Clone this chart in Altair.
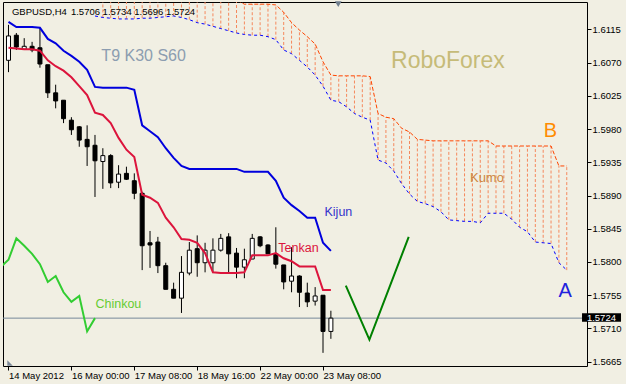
import altair as alt
import pandas as pd

# ---------------- data ----------------
bar_index = list(range(42))
open_ = [1.6073, 1.6107, 1.6088, 1.6092, 1.6090, 1.6067, 1.6029, 1.6019, 1.5992, 1.5983,
         1.5966, 1.5958, 1.5936, 1.5944, 1.5908, 1.5920, 1.5910, 1.5893, 1.5826, 1.5827,
         1.5795, 1.5763, 1.5751, 1.5785, 1.5818, 1.5799, 1.5799, 1.5816, 1.5834, 1.5812,
         1.5793, 1.5804, 1.5834, 1.5823, 1.5811, 1.5796, 1.5774, 1.5781, 1.5758, 1.5747,
         1.5755, 1.5706]
high = [1.6121, 1.6110, 1.6103, 1.6098, 1.6117, 1.6067, 1.6040, 1.6019, 1.5996, 1.5984,
        1.5985, 1.5972, 1.5954, 1.5946, 1.5931, 1.5929, 1.5920, 1.5895, 1.5842, 1.5834,
        1.5799, 1.5772, 1.5808, 1.5827, 1.5836, 1.5826, 1.5832, 1.5838, 1.5839, 1.5819,
        1.5818, 1.5838, 1.5835, 1.5824, 1.5847, 1.5796, 1.5820, 1.5782, 1.5772, 1.5766,
        1.5755, 1.5734]
low = [1.6057, 1.6087, 1.6087, 1.6084, 1.6063, 1.6022, 1.6008, 1.5988, 1.5972, 1.5956,
       1.5930, 1.5888, 1.5899, 1.5900, 1.5900, 1.5911, 1.5885, 1.5789, 1.5792, 1.5785,
       1.5763, 1.5751, 1.5731, 1.5782, 1.5780, 1.5786, 1.5785, 1.5814, 1.5784, 1.5778,
       1.5778, 1.5804, 1.5820, 1.5811, 1.5791, 1.5763, 1.5759, 1.5739, 1.5739, 1.5741,
       1.5677, 1.5696]
close = [1.6106, 1.6091, 1.6092, 1.6087, 1.6068, 1.6029, 1.6018, 1.5994, 1.5979, 1.5965,
         1.5956, 1.5937, 1.5944, 1.5907, 1.5919, 1.5912, 1.5893, 1.5822, 1.5823, 1.5795,
         1.5763, 1.5751, 1.5786, 1.5816, 1.5799, 1.5816, 1.5816, 1.5832, 1.5811, 1.5793,
         1.5803, 1.5832, 1.5822, 1.5811, 1.5797, 1.5773, 1.5781, 1.5759, 1.5746, 1.5754,
         1.5706, 1.5724]
tenkan = [1.6090, 1.6089, 1.6088, 1.6088, 1.6086, 1.6073, 1.6065, 1.6059, 1.6050, 1.6038,
          1.6026, 1.6002, 1.5999, 1.5988, 1.5968, 1.5952, 1.5942, 1.5891, 1.5887, 1.5880,
          1.5860, 1.5847, 1.5831, 1.5830, 1.5826, 1.5812, 1.5786, 1.5785, 1.5785, 1.5785,
          1.5786, 1.5809, 1.5809, 1.5809, 1.5812, 1.5805, 1.5801, 1.5794, 1.5794, 1.5794,
          1.5762, 1.5762]
kijun = [1.6125, 1.6118, 1.6118, 1.6118, 1.6117, 1.6102, 1.6096, 1.6086, 1.6079, 1.6071,
         1.6060, 1.6037, 1.6036, 1.6036, 1.6036, 1.6036, 1.6033, 1.5985, 1.5977, 1.5969,
         1.5954, 1.5941, 1.5930, 1.5926, 1.5926, 1.5926, 1.5926, 1.5926, 1.5926, 1.5926,
         1.5922, 1.5922, 1.5922, 1.5922, 1.5910, 1.5887, 1.5877, 1.5869, 1.5860, 1.5860,
         1.5826, 1.5815]
chinkou_index = list(range(-1, 12))
chinkou = [1.5793, 1.5803, 1.5832, 1.5822, 1.5811, 1.5797, 1.5773, 1.5781, 1.5759, 1.5746,
           1.5754, 1.5706, 1.5724]
kumo_index = list(range(11, 72))
senkou_a = [1.6133, 1.6131, 1.6130, 1.6129, 1.6129, 1.6129, 1.6130, 1.6130, 1.6131,
            1.6132, 1.6133, 1.6131, 1.6128, 1.6124, 1.6122, 1.6119, 1.6116, 1.6113, 1.6110,
            1.6108, 1.6107, 1.6107, 1.6105, 1.6101, 1.6087, 1.6082, 1.6073, 1.6064, 1.6053,
            1.6038, 1.6019, 1.6017, 1.6010, 1.6001, 1.5996, 1.5992, 1.5938, 1.5934, 1.5923,
            1.5906, 1.5892, 1.5882, 1.5879, 1.5875, 1.5868, 1.5857, 1.5856, 1.5855, 1.5855,
            1.5853, 1.5866, 1.5866, 1.5866, 1.5858, 1.5847, 1.5841, 1.5827, 1.5826, 1.5825,
            1.5799, 1.5789]
senkou_b = [1.6162, 1.6162, 1.6162, 1.6162, 1.6162, 1.6162, 1.6162, 1.6162, 1.6162,
            1.6162, 1.6162, 1.6162, 1.6162, 1.6162, 1.6162, 1.6162, 1.6162, 1.6162, 1.6155,
            1.6149, 1.6149, 1.6149, 1.6149, 1.6148, 1.6138, 1.6124, 1.6114, 1.6105, 1.6095,
            1.6071, 1.6053, 1.6052, 1.6052, 1.6052, 1.6052, 1.6051, 1.6001, 1.5996, 1.5994,
            1.5981, 1.5976, 1.5966, 1.5965, 1.5964, 1.5964, 1.5964, 1.5964, 1.5964, 1.5964,
            1.5964, 1.5964, 1.5957, 1.5957, 1.5957, 1.5957, 1.5957, 1.5957, 1.5957, 1.5957,
            1.5930, 1.5930]
hatch_from = 12

time_tick_index = [0, 8, 16, 24, 32, 40]
time_tick_labels = ["14 May 2012", "16 May 00:00", "17 May 08:00", "18 May 16:00",
                    "22 May 00:00", "23 May 08:00"]
price_ticks = [1.6115, 1.6070, 1.6025, 1.5980, 1.5935, 1.5890, 1.5845, 1.5800,
               1.5755, 1.5710, 1.5665]
last_price = 1.5724
projection_index = [42.9, 45.9, 50.9]
projection_price = [1.5768, 1.5695, 1.5834]

ann_text = ["GBPUSD,H4", "1.5706 1.5734 1.5696 1.5724", "T9 K30 S60", "RoboForex",
            "B", "A", "Kumo", "Kijun", "Tenkan", "Chinkou"]
ann_index = [0.44, 7.94, 11.81, 48.65, 68.06, 69.94, 58.69, 40.19, 34.31, 11.06]
ann_price = [1.6135, 1.6135, 1.6072, 1.6063, 1.5969, 1.5753, 1.5908, 1.5862, 1.5814, 1.5738]
ann_size = [9.5, 9.5, 16, 23, 20, 20, 13, 12.5, 12.5, 12.5]
ann_color = ["#000000", "#000000", "#8C9DB0", "#C6BB78", "#FF8C00", "#2222DD",
             "#CD853F", "#3333CC", "#DC143C", "#66CC33"]

# ---------------- tables ----------------
bars = pd.DataFrame({"i": bar_index, "o": open_, "h": high, "l": low, "c": close,
                     "t": tenkan, "k": kijun})
chk = pd.DataFrame({"i": chinkou_index, "p": chinkou})
kumo = pd.DataFrame({"i": kumo_index, "a": senkou_a, "b": senkou_b})
hatch = kumo[kumo["i"] >= hatch_from]
bid = pd.DataFrame({"p": [last_price]})
proj = pd.DataFrame({"i": projection_index, "p": projection_price})
ann = pd.DataFrame({"txt": ann_text, "i": ann_index, "p": ann_price,
                    "fs": ann_size, "col": ann_color})
box = pd.DataFrame({"i": [72.94], "i2": [77.9], "p": [1.57305], "p2": [1.57192],
                    "ti": [73.56], "tp": [last_price], "txt": [f"{last_price:.4f}"]})
marker_top = pd.DataFrame({"i": [41.94], "p": [1.61492]})
marker_corner = pd.DataFrame({"i": [0.2], "p": [1.56633]})

FONT = "Liberation Sans"
xs = alt.Scale(domain=[-0.0625, 72.9375], nice=False, zero=False)
ys = alt.Scale(domain=[1.56592, 1.615195], nice=False, zero=False)

label_expr = " : ".join(f"datum.value == {v} ? '{l}'"
                        for v, l in zip(time_tick_index, time_tick_labels)) + " : ''"
x_axis = alt.Axis(values=time_tick_index, labelExpr=label_expr, title=None, grid=False,
                  domain=False, tickSize=4, tickColor="black", labelAlign="left",
                  labelBaseline="top", labelPadding=0, labelFont=FONT, labelFontSize=9.5,
                  labelColor="black", labelFlush=False, labelOverlap=False, labelBound=False)
y_axis = alt.Axis(values=price_ticks, format=".4f", orient="right", title=None, grid=False,
                  domain=False, tickSize=4, tickColor="black", labelPadding=1,
                  labelFont=FONT, labelFontSize=9.5, labelColor="black",
                  labelFlush=False, labelOverlap=False, labelBound=False)


def X(f):
    return alt.X(f"{f}:Q", scale=xs, axis=x_axis)


def Y(f):
    return alt.Y(f"{f}:Q", scale=ys, axis=y_axis)


layers = []
layers.append(alt.Chart(hatch).mark_rule(color="#F5885C", strokeWidth=1, strokeDash=[3, 2],
                                         clip=True)
              .encode(x=X("i"), y=Y("a"), y2="b:Q"))
layers.append(alt.Chart(kumo).mark_line(color="#0000FF", strokeWidth=1, strokeDash=[3, 3],
                                        clip=True)
              .encode(x=X("i"), y=Y("a")))
layers.append(alt.Chart(kumo).mark_line(color="#FF4500", strokeWidth=1, strokeDash=[4, 2],
                                        clip=True)
              .encode(x=X("i"), y=Y("b")))
layers.append(alt.Chart(bid).mark_rule(color="#778899", strokeWidth=1)
              .encode(y=Y("p")))
layers.append(alt.Chart(bars).mark_rule(color="black", strokeWidth=1)
              .encode(x=X("i"), y=Y("l"), y2="h:Q"))
layers.append(alt.Chart(bars).transform_filter("datum.c > datum.o")
              .mark_bar(size=4, fill="white", stroke="black", strokeWidth=1)
              .encode(x=X("i"), y=Y("o"), y2="c:Q"))
layers.append(alt.Chart(bars).transform_filter("datum.c <= datum.o")
              .mark_bar(size=4, fill="black", stroke="black", strokeWidth=1)
              .encode(x=X("i"), y=Y("o"), y2="c:Q"))
layers.append(alt.Chart(chk).mark_line(color="#32CD32", strokeWidth=2, clip=True)
              .encode(x=X("i"), y=Y("p")))
layers.append(alt.Chart(bars).mark_line(color="#0000DD", strokeWidth=2, clip=True)
              .encode(x=X("i"), y=Y("k")))
layers.append(alt.Chart(bars).mark_line(color="#DC143C", strokeWidth=2, clip=True)
              .encode(x=X("i"), y=Y("t")))
layers.append(alt.Chart(proj).mark_line(color="#008000", strokeWidth=2)
              .encode(x=X("i"), y=Y("p")))
layers.append(alt.Chart(ann).mark_text(align="left", baseline="alphabetic", font=FONT)
              .encode(x=X("i"), y=Y("p"), text="txt:N",
                      size=alt.Size("fs:Q", scale=None),
                      color=alt.Color("col:N", scale=None)))
layers.append(alt.Chart(box).mark_rect(color="black")
              .encode(x=X("i"), x2="i2:Q", y=Y("p"), y2="p2:Q"))
layers.append(alt.Chart(box).mark_text(align="left", baseline="middle", font=FONT,
                                       fontSize=9.5, color="white")
              .encode(x=X("ti"), y=Y("tp"), text="txt:N"))
layers.append(alt.Chart(marker_top).mark_point(shape="triangle-down", filled=True,
                                                color="#6F7E8E", size=45, opacity=1)
              .encode(x=X("i"), y=Y("p")))
layers.append(alt.Chart(marker_corner).mark_point(shape="M -1 -1 L -1 1 L 1 1 Z",
                                                   filled=True, color="#7A8898",
                                                   size=30, opacity=1)
              .encode(x=X("i"), y=Y("p")))

chart = (alt.layer(*layers)
         .properties(width=584, height=364,
                     padding={"left": 3, "top": 2, "right": 39, "bottom": 18},
                     autosize=alt.AutoSizeParams(type="none"),
                     background="#F1EFE3")
         .configure_view(stroke="black", strokeWidth=1))

chart.save("out.html", embed_options={"renderer": "svg", "actions": False})
